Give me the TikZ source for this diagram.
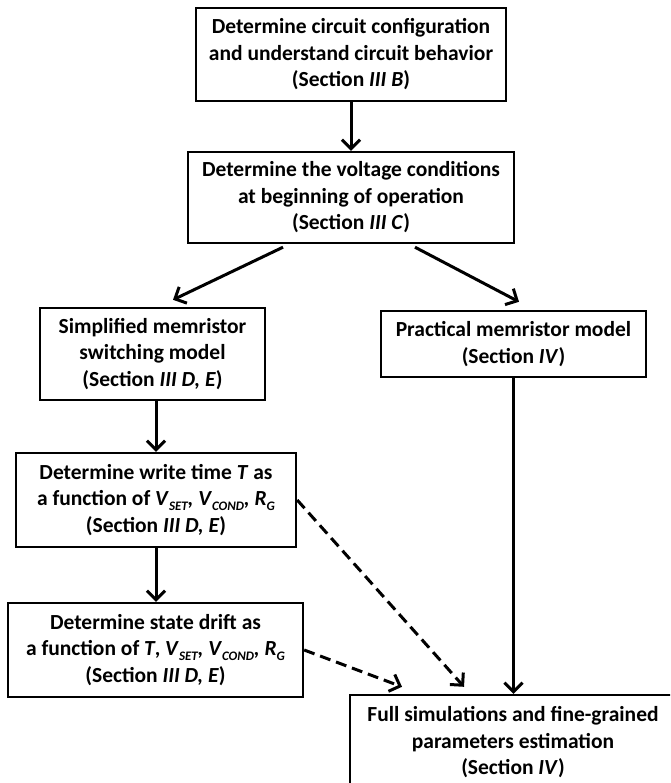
\documentclass[tikz,border=0pt]{standalone}
\usepackage{fontspec}
\setmainfont{Carlito}
\usetikzlibrary{arrows.meta}
\newcommand{\sub}[1]{\raisebox{-0.22em}{\fontsize{13}{13}\selectfont\itshape #1}}
\begin{document}
\begin{tikzpicture}[x=1pt,y=-1pt,
  box/.style={draw=black,line width=2.4pt,inner sep=0pt,align=center,
    font=\fontsize{21.5}{26.5}\selectfont\bfseries},
  arr/.style={line width=3pt,-{Straight Barb[length=9pt,width=18pt,line width=3pt]}},
  darr/.style={arr,dash pattern=on 11pt off 6pt}]
\useasboundingbox (0,0) rectangle (670,783);
\clip (0,0) rectangle (670,783);
\fill[white] (0,0) rectangle (670,783);
\node[box,minimum width=310pt,minimum height=93pt] (b1) at (351,54.5)
  {Determine circuit configuration\\and understand circuit behavior\\(Section \textit{III B})};
\node[box,minimum width=326pt,minimum height=91pt] (b2) at (351,197.5)
  {Determine the voltage conditions\\at beginning of operation\\(Section \textit{III C})};
\node[box,minimum width=225pt,minimum height=92pt] (b3) at (152.5,354)
  {Simplified memristor\\switching model\\(Section \textit{III D, E})};
\node[box,minimum width=265pt,minimum height=66pt] (b4) at (513.5,344)
  {Practical memristor model\\(Section \textit{IV})};
\node[box,minimum width=280pt,minimum height=94pt] (b5) at (156,500)
  {Determine write time \textit{T} as\\a function of \textit{V}\sub{SET}\textit{,} \textit{V}\sub{COND}\textit{,} \textit{R}\sub{G}\\(Section \textit{III D, E})};
\node[box,minimum width=295pt,minimum height=94pt] (b6) at (155.5,650)
  {Determine state drift as\\a function of \textit{T}, \textit{V}\sub{SET}\textit{,} \textit{V}\sub{COND}\textit{,} \textit{R}\sub{G}\\(Section \textit{III D, E})};
\node[box,minimum width=326pt,minimum height=95pt] (b7) at (513,742.5)
  {Full simulations and fine-grained\\parameters estimation\\(Section \textit{IV})};
\draw[arr] (b1.south) -- (b2.north);
\draw[arr] ([xshift=-68pt,yshift=-3pt]b2.south) -- ([xshift=20.5pt,yshift=7pt]b3.north);
\draw[arr] ([xshift=64pt,yshift=-3pt]b2.south) -- ([xshift=5.5pt,yshift=8pt]b4.north);
\draw[arr] ([xshift=3.5pt]b3.south) -- (b5.north);
\draw[arr] (b5.south) -- (b5.south |- b6.north);
\draw[arr] (b4.south) -- (b4.south |- b7.north);
\draw[darr] (b5.east) -- ([xshift=-49pt,yshift=7pt]b7.north);
\draw[darr] (b6.east) -- ([xshift=-111pt,yshift=7pt]b7.north);
\end{tikzpicture}
\end{document}
